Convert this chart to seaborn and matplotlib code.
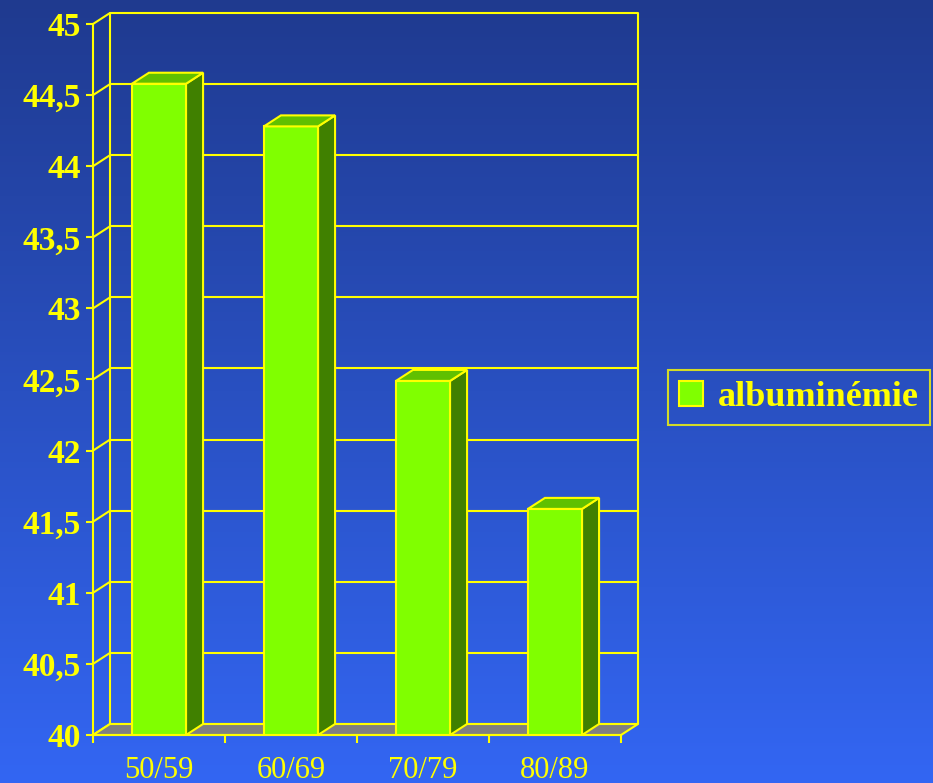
import numpy as np
import pandas as pd
import matplotlib
matplotlib.use("Agg")
import matplotlib.pyplot as plt
import seaborn as sns
from matplotlib.patches import Polygon, Rectangle
from matplotlib.colors import to_rgb

# ---- data ----
categories = ["50/59", "60/69", "70/79", "80/89"]
values = [44.58, 44.28, 42.49, 41.59]
series_name = "albuminémie"
yticks = [40, 40.5, 41, 41.5, 42, 42.5, 43, 43.5, 44, 44.5, 45]
ytick_labels = ["40", "40,5", "41", "41,5", "42", "42,5", "43", "43,5", "44", "44,5", "45"]

# ---- style ----
YEL = "#FFFF00"
FRONT = "#80FF00"
TOP = "#60C000"
SIDE = "#408000"
FLOOR = "#808080"
BG_TOP = "#1F3A8F"
BG_BOT = "#3366F3"
SERIF = ["Liberation Serif", "DejaVu Serif"]

sns.set_theme(style="white")
plt.rcParams["font.family"] = SERIF

W, H = 933, 783
fig = plt.figure(figsize=(W / 100, H / 100), dpi=100)

# background gradient
bg = fig.add_axes([0, 0, 1, 1], zorder=0)
c0, c1 = np.array(to_rgb(BG_TOP)), np.array(to_rgb(BG_BOT))
t = np.linspace(0, 1, 256)[:, None]
grad = (c0[None, :] * (1 - t) + c1[None, :] * t)[:, None, :]
bg.imshow(grad, aspect="auto", extent=[0, 1, 0, 1], origin="upper")
bg.set_axis_off()

# main axes = front plane
L, R, T, B = 93, 621, 24, 735
ax = fig.add_axes([L / W, (H - B) / H, (R - L) / W, (B - T) / H], zorder=1)
ax.patch.set_alpha(0)

lw = 1.5
df = pd.DataFrame({"age": categories, series_name: values})
sns.barplot(data=df, x="age", y=series_name, color=FRONT, saturation=1,
            width=0.41, edgecolor=YEL, linewidth=lw, ax=ax, zorder=5)
ax.set_ylim(40, 45)
ax.set_xlim(-0.5, len(categories) - 0.5)
ax.set_xlabel("")
ax.set_ylabel("")

# depth offsets in data units (17 px right, 11 px up)
x_lo, x_hi = ax.get_xlim()
y_lo, y_hi = ax.get_ylim()
ddx = 17 * (x_hi - x_lo) / (R - L)
ddy = 11 * (y_hi - y_lo) / (B - T)

# back wall grid lines and left wall diagonals
for yv in yticks:
    ax.plot([x_lo + ddx, x_hi + ddx], [yv + ddy, yv + ddy], color=YEL, lw=lw,
            zorder=1, clip_on=False, solid_capstyle="butt")
    ax.plot([x_lo, x_lo + ddx], [yv, yv + ddy], color=YEL, lw=lw,
            zorder=1, clip_on=False)
for xv in (x_lo + ddx, x_hi + ddx):
    ax.plot([xv, xv], [y_lo + ddy, y_hi + ddy], color=YEL, lw=lw,
            zorder=1, clip_on=False)

# floor
ax.add_patch(Polygon([(x_lo, y_lo), (x_hi, y_lo), (x_hi + ddx, y_lo + ddy),
                      (x_lo + ddx, y_lo + ddy)], closed=True, facecolor=FLOOR,
                     edgecolor=YEL, lw=lw, zorder=2, clip_on=False))

# 3D sides and tops of bars
bars = [p for p in ax.patches if isinstance(p, Rectangle)]
for p in bars:
    p.set_zorder(5)
    x0 = p.get_x()
    x1 = x0 + p.get_width()
    y0 = max(p.get_y(), y_lo)
    top = p.get_y() + p.get_height()
    ax.add_patch(Polygon([(x1, y0), (x1 + ddx, y0 + ddy), (x1 + ddx, top + ddy), (x1, top)],
                         closed=True, facecolor=SIDE, edgecolor=YEL, lw=lw,
                         zorder=5, clip_on=False))
    ax.add_patch(Polygon([(x0, top), (x1, top), (x1 + ddx, top + ddy), (x0 + ddx, top + ddy)],
                         closed=True, facecolor=TOP, edgecolor=YEL, lw=lw,
                         zorder=5, clip_on=False))

# spines
for s in ("top", "right"):
    ax.spines[s].set_visible(False)
for s in ("left", "bottom"):
    ax.spines[s].set_visible(True)
    ax.spines[s].set_color(YEL)
    ax.spines[s].set_linewidth(lw)
    ax.spines[s].set_zorder(6)

# ticks
ax.set_yticks(yticks)
ax.set_yticklabels(ytick_labels)
ax.tick_params(axis="y", which="major", length=5, width=lw, color=YEL,
               labelcolor=YEL, labelsize=24, pad=4, left=True, direction="out")
for lab in ax.get_yticklabels():
    lab.set_fontweight("bold")
ax.set_xticks(range(len(categories)))
ax.set_xticklabels(categories)
ax.set_xticks(np.arange(-0.5, len(categories)), minor=True)
ax.tick_params(axis="x", which="major", length=0, labelcolor=YEL,
               labelsize=22, pad=15)
ax.tick_params(axis="x", which="minor", length=6, width=lw, color=YEL,
               bottom=True, direction="out")

# legend
handle = Rectangle((0, 0), 1, 1, facecolor=FRONT, edgecolor=YEL, lw=lw)
leg = ax.legend([handle], [series_name], loc="center left",
                bbox_to_anchor=(668 / W, (H - 397.5) / H),
                bbox_transform=fig.transFigure, frameon=True, fancybox=False,
                prop={"family": SERIF, "weight": "bold", "size": 26},
                handlelength=0.68, handleheight=0.68, handletextpad=0.4,
                borderpad=0.3, borderaxespad=0)
leg.get_frame().set_edgecolor(YEL)
leg.get_frame().set_linewidth(lw)
leg.get_frame().set_facecolor("none")
for txt in leg.get_texts():
    txt.set_color(YEL)

fig.savefig("out.png", dpi=100)
